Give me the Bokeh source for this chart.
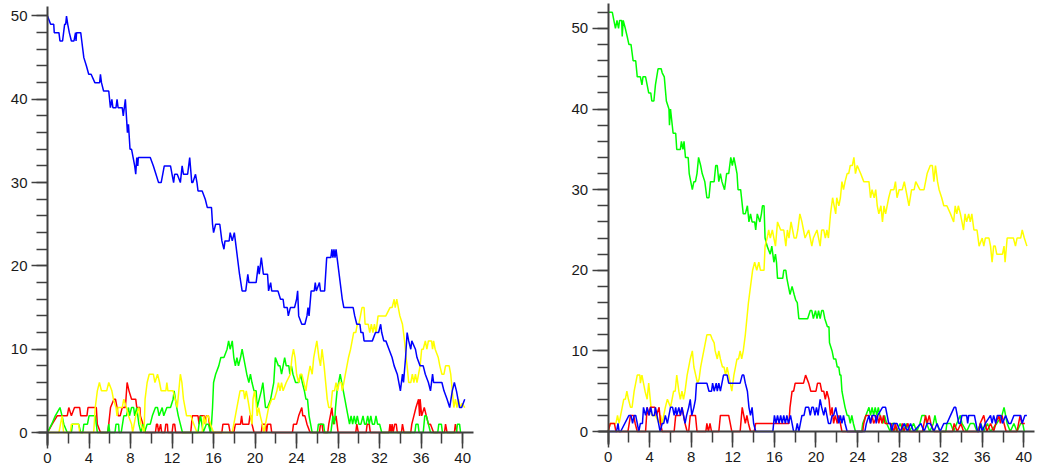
from bokeh.plotting import figure
from bokeh.models import LinearAxis, SingleIntervalTicker, Range1d
from bokeh.layouts import row
from bokeh.embed import file_html
from bokeh.resources import INLINE

# ---------------- data: (time, count) ----------------
left_blue = [(0,50),(0.3,49),(0.6,49),(0.65,48),(1.1,48),(1.2,47),(1.45,47),(1.55,48),(1.65,49),(1.75,49),(1.83,50),(1.95,49),(2.1,48),(2.3,47),(2.55,47),(2.7,48),(2.75,47),(2.8,48),(3.2,48),(3.3,47),(3.4,46),(3.5,45),(3.75,44),(3.97,43),(4.2,43),(4.56,42),(5.02,42),(5.1,43),(5.2,42),(5.4,41),(5.9,41),(6.06,39),(6.2,40),(6.3,39),(6.6,39),(6.7,40),(6.8,39),(7.2,39),(7.3,38),(7.5,40),(7.7,36),(7.8,37),(7.95,34),(8.1,34),(8.25,33),(8.4,32),(8.5,31),(8.6,33),(8.7,32),(8.75,33),(9.9,33),(10.2,32),(10.45,31),(10.7,30),(10.95,30),(11.1,31),(11.25,32),(11.85,32),(12.0,31),(12.15,30),(12.25,31),(12.5,31),(12.8,30),(12.97,32),(13.1,31),(13.5,31),(13.7,33),(13.9,30),(14.0,30),(14.26,31),(14.4,30),(14.5,29),(14.9,29),(15.2,28),(15.4,27),(15.8,27),(15.9,25),(16.0,24),(16.2,25),(16.6,25),(16.8,23),(17.0,22),(17.1,23),(17.5,23),(17.6,24),(17.8,23),(18.0,24),(18.1,23),(18.3,21),(18.5,19),(18.75,17),(19.1,17),(19.3,19),(19.4,18),(20.1,18),(20.3,20),(20.4,19),(20.6,21),(20.8,19),(21.2,19),(21.3,17),(21.5,18),(21.6,17),(22.2,17),(22.45,16),(22.7,16),(22.8,15),(23.1,15),(23.2,14),(23.4,15),(23.8,15),(24.0,16),(24.1,17),(24.2,14),(24.5,13),(24.8,13),(25.0,14),(25.1,15),(25.2,14),(25.4,17),(25.7,17),(25.8,18),(25.9,17),(26.2,18),(26.3,17),(26.7,17),(26.9,21),(27.3,21),(27.4,22),(27.5,21),(27.6,22),(27.7,21),(27.8,22),(27.9,21),(28.4,16),(28.55,15),(29.45,15),(29.6,14),(29.8,13),(30.1,13),(30.2,12),(30.4,12),(30.5,11),(31.3,11),(31.6,12),(31.9,12),(32.1,13),(32.2,12),(32.4,11),(32.6,11),(32.9,10),(33.2,9),(33.4,8),(33.7,7),(34.0,5),(34.2,7),(34.3,6),(34.5,9),(34.65,12),(34.8,11),(35.0,10),(35.1,11),(35.45,10),(35.6,9),(35.9,8),(36.2,8),(36.4,7),(36.7,6),(36.9,5),(37.1,7),(37.2,6),(37.5,6),(38.0,6),(38.2,5),(38.5,4),(38.75,3),(39.0,5),(39.2,6),(39.4,5),(39.7,3),(39.9,3),(40.2,4)]

left_red = [(0,0),(0.45,1),(0.93,2),(1.9,2),(2.05,3),(2.3,2),(2.6,3),(3.1,3),(3.2,2),(3.8,2),(3.9,3),(4.7,3),(4.8,1),(5.1,0),(5.8,0),(5.9,1),(6.07,3),(6.4,4),(6.55,4),(6.7,3),(6.8,2),(7.0,2),(7.2,3),(7.5,3),(7.67,6),(7.85,5),(8.1,4),(8.5,4),(8.6,3),(8.9,3),(8.95,2),(9.2,1),(9.4,0),(10.4,0),(10.5,1),(10.6,1),(10.7,0),(10.9,1),(11.0,0),(11.3,0),(11.4,1),(11.55,1),(11.6,0),(12.0,0),(12.1,1),(12.25,1),(12.35,0),(13.8,0),(13.95,2),(14.5,2),(14.6,1),(14.7,2),(15.1,2),(15.2,1),(15.3,2),(15.5,2),(15.7,0),(16.8,0),(16.9,1),(17.45,1),(17.6,0),(17.95,0),(18.1,1),(18.6,1),(18.7,2),(18.8,1),(19.4,1),(19.5,2),(19.6,2),(19.7,1),(19.9,0),(20.6,0),(20.7,1),(21.0,1),(21.1,0),(21.2,1),(21.5,1),(21.6,0),(23.6,0),(23.7,1),(24.0,1),(24.2,2),(24.5,3),(24.6,2),(24.8,2),(25.0,1),(25.3,0),(26.2,0),(26.3,1),(26.45,1),(26.55,0),(27.0,0),(27.1,1),(27.4,3),(27.55,1),(27.8,2),(28.0,0),(29.7,0),(29.8,1),(29.95,0),(30.7,0),(30.8,1),(31.0,1),(31.1,0),(32.9,0),(33.0,1),(33.1,0),(33.2,1),(33.3,0),(33.45,1),(33.6,1),(33.7,0),(34.1,0),(34.2,1),(34.35,0),(35.0,0),(35.1,1),(35.3,2),(35.5,3),(35.75,4),(35.85,2),(35.9,4),(36.05,2),(36.3,3),(36.5,2),(36.7,1),(36.9,1),(37.2,0),(38.25,0),(38.35,1),(38.5,0),(39.2,0),(39.3,1),(39.45,0),(39.8,0)]

left_green = [(0,0),(0.4,1),(0.75,2),(1.2,3),(1.4,2),(1.57,1),(1.9,0),(2.3,0),(2.4,1),(3.0,1),(3.2,0),(3.4,0),(3.5,1),(3.85,1),(4.0,2),(4.6,2),(4.8,0),(5.8,0),(5.9,1),(6.0,0),(6.5,0),(6.6,1),(6.85,1),(6.9,0),(7.1,0),(7.35,2),(7.6,2),(7.8,3),(7.9,2),(8.1,3),(8.3,3),(8.4,2),(8.6,3),(8.8,1),(9.0,0),(9.2,1),(9.35,0),(9.6,1),(9.9,1),(10.1,2),(10.4,3),(10.6,3),(10.75,2),(11.05,3),(11.2,2),(11.5,3),(11.85,3),(12.1,4),(12.2,5),(12.45,3),(12.6,2),(12.8,1),(13.0,0),(14.5,0),(14.6,1),(14.75,2),(15.0,0),(15.3,1),(15.5,1),(15.7,0),(15.8,1),(15.9,3),(16.0,6),(16.2,7),(16.5,8),(16.7,9),(17.0,9),(17.3,10),(17.45,11),(17.6,10),(17.8,11),(17.95,9),(18.1,8),(18.25,9),(18.4,8),(18.6,9),(18.75,10),(18.9,9),(19.05,8),(19.2,7),(19.4,6),(19.55,7),(19.7,6),(19.9,5),(20.1,5),(20.2,3),(20.4,4),(20.6,5),(20.75,6),(21.0,3),(21.2,3),(21.5,4),(21.65,5),(21.8,6),(21.95,9),(22.25,8),(22.4,8),(22.55,7),(22.7,8),(22.85,9),(23.0,8),(23.25,8),(23.35,7),(23.5,8),(23.65,7),(23.9,6),(24.2,6),(24.4,7),(24.55,6),(24.75,5),(24.9,4),(25.05,4),(25.2,2),(25.35,1),(25.5,0),(26.0,0),(26.1,1),(26.6,1),(26.7,0),(27.3,0),(27.5,2),(27.65,1),(27.75,3),(27.9,5),(28.05,6),(28.2,7),(28.35,6),(28.5,5),(28.65,4),(28.8,3),(28.95,2),(29.1,1),(29.25,2),(29.4,1),(29.55,2),(29.7,1),(29.85,2),(30.0,1),(30.2,1),(30.4,2),(30.55,1),(30.7,1),(30.85,2),(31.0,1),(31.15,2),(31.3,1),(31.5,1),(31.65,2),(31.8,1),(32.0,1),(32.2,0),(35.4,0),(35.5,1),(35.7,1),(35.8,0),(36.2,0),(36.35,2),(36.5,2),(36.7,1),(36.9,0),(37.6,0),(37.7,1),(37.95,1),(38.05,0),(39.4,0),(39.5,1),(39.7,1),(39.8,0)]

left_yellow = [(0,0),(1.1,0),(1.25,1),(1.4,2),(1.55,0),(2.2,0),(2.3,1),(3.0,1),(3.1,0),(4.45,0),(4.6,3),(4.8,5),(5.0,6),(5.2,5),(5.7,5),(5.9,6),(6.2,5),(6.35,4),(6.6,3),(6.7,2),(6.8,3),(7.2,3),(7.35,4),(7.6,3),(7.8,2),(8.1,1),(8.2,0),(8.35,1),(8.5,2),(8.8,3),(9.0,1),(9.3,0),(9.4,4),(9.6,6),(9.8,7),(10.2,7),(10.35,6),(10.6,7),(10.8,6),(10.95,5),(11.4,5),(11.5,6),(11.6,5),(12.1,5),(12.3,4),(12.5,3),(12.65,5),(12.8,7),(12.95,6),(13.1,4),(13.25,3),(13.4,2),(13.8,2),(14.1,1),(14.4,0),(14.9,0),(15.05,2),(15.2,1),(15.35,2),(15.5,2),(15.7,1),(16.0,0),(17.8,0),(17.95,1),(18.1,2),(18.4,4),(18.55,5),(18.9,5),(19.0,4),(19.15,5),(19.3,4),(19.7,1),(19.8,4),(19.95,5),(20.1,3.5),(20.2,2),(20.35,3),(20.5,2),(20.7,1),(20.85,0),(21.0,1),(21.3,3),(21.6,4),(21.85,4),(22.1,5),(22.25,6),(22.4,5),(22.55,6),(22.7,5),(23.0,6),(23.4,7),(23.55,9),(23.7,10),(23.85,9),(24.0,7),(24.2,6),(24.35,7),(24.5,7),(24.7,6),(24.9,5),(25.0,6),(25.15,7),(25.3,8),(25.5,7),(25.65,9),(25.8,10),(25.95,11),(26.15,9),(26.3,8),(26.45,10),(26.55,9),(26.65,8),(26.8,6),(26.95,4),(27.1,3),(27.3,3),(27.45,5),(27.65,5),(27.8,6),(27.95,5),(28.1,6),(28.3,6),(28.4,5),(28.55,6),(28.7,7),(28.85,8),(29.0,9),(29.2,10),(29.35,11),(29.5,12),(29.7,12),(29.85,13),(30.0,13),(30.15,14),(30.3,15),(30.5,15),(30.6,13),(30.9,13),(31.05,12),(31.2,13),(31.35,12),(31.5,13),(31.65,12),(31.85,14),(32.6,14),(33.0,15),(33.2,15),(33.4,16),(33.5,15),(33.65,16),(33.8,15),(33.95,14),(34.2,13),(34.4,11),(34.55,9),(34.65,8),(34.8,6),(35.0,6),(35.15,7),(35.3,6),(35.45,7),(35.6,6),(35.75,7),(35.9,8),(36.05,10),(36.2,10),(36.4,11),(36.55,10),(36.7,11),(37.0,11),(37.1,10),(37.2,11),(37.35,10),(37.65,9),(37.8,8),(38.0,7),(38.2,7),(38.35,8),(38.7,8),(38.85,7),(39.0,5),(39.15,3),(39.3,4),(39.45,3),(39.6,4),(39.75,3),(39.95,3.5),(40.2,3)]

right_green = [(0,52),(0.4,52),(0.7,50),(0.85,51),(1.0,50),(1.1,51),(1.3,51),(1.35,49),(1.45,51),(1.65,50),(1.83,49),(2.0,48),(2.2,48),(2.3,47),(2.4,46),(2.65,46),(2.8,44),(3.1,44),(3.25,43),(3.35,44),(3.6,44),(3.75,43),(3.9,42),(4.1,42),(4.2,41),(4.4,41),(4.55,43),(4.8,45),(5.1,45),(5.2,44.5),(5.4,44),(5.6,41),(5.85,40),(5.9,38),(6.0,40),(6.25,37),(6.5,37),(6.6,35),(6.95,35),(7.05,36),(7.2,35),(7.3,36),(7.44,34),(7.7,34),(7.8,32),(7.95,31),(8.1,30),(8.25,31),(8.4,31),(8.55,32),(8.7,34),(8.9,33),(9.05,32),(9.3,31),(9.5,29),(9.7,29),(9.85,31),(10.2,31),(10.35,33),(10.5,33),(10.65,31),(10.8,32),(10.95,31),(11.2,30),(11.4,32),(11.6,32),(11.8,34),(11.95,33),(12.1,34),(12.25,33),(12.4,32),(12.5,30),(12.75,30),(13.0,27),(13.2,27),(13.4,28),(13.55,26),(13.7,27),(13.85,26),(14.1,26),(14.2,25),(14.35,27),(14.6,26),(14.75,27),(14.85,28),(15.0,28),(15.1,24),(15.3,23),(15.6,22),(15.75,23),(15.95,21),(16.1,22),(16.2,21),(16.3,19),(16.8,19),(16.9,20),(17.1,20),(17.2,19),(17.35,18),(17.5,17),(17.7,18),(17.9,17),(18.05,16.3),(18.2,16),(18.35,14),(19.2,14),(19.45,15),(19.6,15),(19.75,14),(19.95,15),(20.1,14),(20.25,15),(20.4,14),(20.55,15),(20.7,15),(20.85,14),(21.1,13),(21.25,13),(21.3,11),(21.55,10),(21.7,9),(21.9,9),(22.05,8),(22.2,8),(22.3,7),(22.4,7),(22.5,5),(22.65,4),(22.8,3),(23.0,2),(23.15,2),(23.3,1),(23.45,2),(23.6,1),(23.8,0),(24.4,0),(24.5,1),(24.8,2),(25.1,3),(25.25,2),(25.4,3),(25.55,2),(25.7,3),(25.85,2),(26.0,3),(26.15,2),(26.45,1),(26.6,2),(26.8,1),(27.15,0),(27.3,1),(27.6,1),(27.75,0),(28.1,1),(28.4,0),(28.7,1),(29.0,0),(29.4,1),(29.7,0),(30.0,1),(30.2,2),(30.5,2),(30.65,1),(30.95,0),(31.3,1),(31.45,2),(31.6,1),(31.95,0),(32.5,0),(32.6,1),(32.95,1),(33.25,0),(33.55,1),(33.9,2),(34.05,1),(34.5,0),(34.85,1),(35.2,1),(35.5,0),(35.85,1),(36.15,0),(36.5,1),(36.8,0),(37.4,1),(37.9,2),(38.1,3),(38.25,2),(38.4,1),(38.7,0),(39.05,1),(39.35,0),(39.7,1),(39.9,1),(40.05,0)]

right_yellow = [(0,0),(0.2,1),(0.75,1),(0.9,2),(1.05,1),(1.2,2),(1.35,3),(1.5,4),(1.65,4),(1.8,5),(1.95,4),(2.15,3),(2.3,3),(2.5,5),(2.65,6),(2.8,7),(3.05,7),(3.1,6),(3.25,7),(3.4,6),(3.55,5),(3.75,4),(3.9,6),(4.05,4),(4.2,2),(4.55,2),(4.9,1),(5.05,2),(5.2,1),(5.35,2),(5.5,3),(5.7,4),(6.0,3),(6.15,4),(6.3,5),(6.45,5),(6.6,7),(6.8,5),(6.95,4),(7.1,5),(7.25,4),(7.4,5),(7.6,7),(7.75,8),(7.9,9),(8.1,10),(8.25,8),(8.6,6),(8.75,6.5),(8.9,8),(9.05,9),(9.2,10),(9.35,11),(9.5,12),(9.85,12),(10.0,11.5),(10.2,11),(10.3,10),(10.5,9),(10.65,10),(10.8,9),(11.0,8),(11.15,8),(11.3,7),(11.45,8),(11.6,7),(11.9,5),(12.1,7),(12.25,8),(12.4,9),(12.55,9),(12.7,10),(12.85,9),(13.0,10),(13.2,12),(13.35,14),(13.5,16),(13.7,18),(13.9,20),(14.1,21),(14.3,20),(14.5,21),(14.66,20),(15.0,20),(15.1,23),(15.3,24),(15.45,25),(15.6,24),(15.8,25),(15.95,24),(16.1,23),(16.3,26),(16.6,25),(16.9,25),(17.1,23),(17.25,25),(17.4,24),(17.6,26),(17.75,25),(17.9,24),(18.1,24),(18.25,25),(18.45,27),(18.65,26),(18.8,25),(18.95,24),(19.3,25),(19.45,24),(19.6,23),(19.75,24),(20.1,25),(20.25,24),(20.4,23),(20.55,25),(20.75,25),(20.9,24),(21.05,25),(21.2,24),(21.4,27),(21.6,29),(21.75,28),(21.9,27),(22.0,29),(22.2,28),(22.35,29),(22.5,31),(22.65,30),(22.8,31),(23.0,32),(23.15,32),(23.3,33),(23.5,33),(23.65,34),(23.8,32),(23.97,33),(24.3,32),(24.6,31),(25.1,31),(25.25,29),(25.4,30),(25.6,29),(25.75,30),(25.9,28),(26.05,27),(26.25,28),(26.4,26),(26.55,28),(26.7,27),(26.85,28),(27.0,29),(27.2,30),(27.5,30),(27.65,31),(27.8,29),(28.0,30),(28.3,30),(28.5,31),(28.8,29),(28.95,28),(29.2,30),(29.45,30),(29.6,31),(30.0,30),(30.4,30),(30.55,31),(30.7,32),(31.0,33),(31.2,33),(31.35,31),(31.5,33),(31.7,31),(31.85,30),(32.1,29),(32.3,28),(32.6,28),(32.95,27),(33.25,26),(33.4,28),(33.55,27),(33.7,28),(33.9,27),(34.05,26),(34.2,25),(34.35,27),(34.5,26),(34.7,27),(34.85,26),(35.0,27),(35.2,25),(35.5,25),(35.7,23),(36.0,24),(36.15,23),(36.3,24),(36.65,24),(36.8,23),(36.95,21),(37.1,23),(37.25,23),(37.4,22),(37.95,22),(38.1,23),(38.2,21),(38.4,24),(39.0,24),(39.2,23),(39.35,24),(39.7,24),(39.85,25),(40.05,24),(40.3,23)]

right_red = [(0,0),(0.2,1),(0.6,1),(0.75,0),(1.9,0),(2.15,2),(2.45,2),(2.6,1),(2.8,0),(3.6,0),(3.75,3),(3.9,2),(4.05,3),(4.5,3),(4.65,2),(4.9,3),(5.05,1),(5.2,0),(6.35,0),(6.5,2),(6.95,2),(7.1,3),(7.25,2),(7.4,1),(7.6,0),(7.75,0),(7.9,2),(8.4,2),(8.55,0),(9.4,0),(9.5,1),(9.65,0),(9.8,1),(9.95,0),(10.65,0),(10.8,2),(11.6,2),(11.75,1),(11.9,0),(12.7,0),(12.9,3),(13.05,2),(13.2,1),(13.35,2),(13.5,1),(13.7,0),(14.05,0),(14.2,1),(17.4,1),(17.5,3),(17.7,5),(17.85,5),(18.0,6),(18.8,6),(19.0,7),(19.15,6.5),(19.3,6),(19.5,5),(20.0,5),(20.15,6),(20.4,6),(20.55,5),(20.75,5),(20.9,4),(21.05,5),(21.25,4),(21.4,2),(21.55,3),(21.7,1),(21.85,2),(22.05,1),(22.2,2),(22.35,1),(22.5,0),(24.5,0),(24.6,1),(24.8,2),(25.1,2),(25.25,1),(25.4,2),(25.55,1),(25.9,2),(26.05,1),(26.2,2),(26.35,1),(26.5,2),(26.65,1),(27.2,1),(27.5,0),(27.65,1),(27.8,0),(28.2,0),(28.3,1),(28.45,0),(28.85,1),(29.0,0),(30.25,0),(30.4,1),(30.55,2),(30.7,1),(30.9,2),(31.05,1),(31.35,0),(33.15,0),(33.3,1),(33.6,0),(33.95,1),(34.2,0),(35.65,0),(35.8,1),(36.15,2),(36.3,1),(36.45,0),(36.8,1),(37.1,0),(37.3,1),(37.6,2),(37.75,1),(37.9,2),(38.1,1),(38.3,0),(39.35,0),(39.5,1),(39.65,2),(39.8,1),(40.1,1)]

right_blue = [(0,0),(0.8,0),(0.95,1),(1.05,0),(1.2,0),(2.0,2),(2.2,2),(2.35,1),(2.5,2),(2.65,2),(2.8,1),(2.95,0),(3.1,1),(3.3,1),(3.4,3),(3.6,2),(3.75,3),(3.95,2),(4.1,3),(4.25,2),(4.45,2),(4.55,3),(4.7,2),(4.85,1),(5.0,0),(5.2,1),(5.35,1),(5.5,2),(5.7,1),(6.0,3),(6.2,3),(6.35,2),(6.5,3),(6.6,2),(6.8,3),(6.95,2),(7.1,3),(7.25,2),(7.4,1),(7.55,2),(7.75,3),(7.9,4),(8.05,2),(8.25,3),(8.4,4),(8.5,6),(9.5,6),(9.7,5),(9.95,5),(10.05,6),(10.2,5),(10.4,6),(10.5,5),(10.65,6),(10.8,5),(10.95,6),(11.1,7),(11.45,7),(11.6,6),(12.7,6),(12.9,7),(13.05,7),(13.2,6),(13.4,5),(13.55,3),(13.7,2),(13.85,3),(14.0,1),(14.2,0),(15.85,0),(16.0,2),(16.15,1),(16.3,2),(16.45,1),(16.6,2),(16.75,1),(16.9,2),(17.05,1),(17.2,2),(17.35,1),(17.55,2),(17.7,1),(17.85,0),(18.05,0),(18.2,1),(18.35,0),(18.5,1),(18.65,2),(18.85,2),(19.0,3),(19.3,3),(19.45,2),(19.6,3),(19.75,3),(19.9,2),(20.05,3),(20.2,2),(20.4,4),(20.55,3),(20.75,2),(20.9,3),(21.05,2),(21.2,1),(21.4,1),(21.55,2),(21.7,2),(21.9,3),(22.05,2),(22.2,1),(22.35,2),(22.5,1),(22.65,2),(22.8,1),(23.0,0),(24.7,0),(24.85,1),(25.1,2),(25.25,1),(25.4,2),(25.7,2),(25.8,1),(25.95,2),(26.4,3),(26.7,3),(26.85,2),(27.0,1),(27.15,1),(27.3,0),(27.45,1),(27.8,1),(28.1,0),(28.5,1),(28.8,0),(29.1,1),(29.4,0),(30.1,1),(30.4,0),(30.7,1),(31.0,1),(31.35,0),(31.65,1),(31.95,0),(32.3,1),(32.6,1),(32.95,2),(33.3,3),(33.45,3),(33.6,2),(33.75,1),(33.9,1),(34.05,2),(34.5,2),(34.6,1),(34.7,2),(35.25,2),(35.4,1),(35.55,0),(35.7,0),(35.85,1),(36.0,0),(36.3,1),(36.8,2),(36.95,1),(37.1,2),(37.3,1),(37.45,2),(37.8,2),(37.95,1),(38.25,2),(38.55,1),(38.75,1),(39.05,2),(39.7,2),(39.85,1),(40.1,2),(40.3,2)]

x_tick_step = 4
y_tick_step = 10

left_series = [(left_red, "#ff0000"), (left_green, "#00ff00"), (left_yellow, "#ffff00"), (left_blue, "#0000ff")]
right_series = [(right_green, "#00ff00"), (right_yellow, "#ffff00"), (right_red, "#ff0000"), (right_blue, "#0000ff")]

AXIS_COLOR = "#404040"
TEXT_COLOR = "#1a1a1a"


def make_panel(width, xr, yr, xbounds, ybounds, series):
    p = figure(width=width, height=471, x_range=Range1d(*xr), y_range=Range1d(*yr),
               output_backend="svg", toolbar_location=None,
               x_axis_type=None, y_axis_type=None,
               min_border_left=0, min_border_right=0,
               min_border_top=0, min_border_bottom=0)
    p.outline_line_color = None
    p.background_fill_color = "white"
    p.border_fill_color = "white"
    for data, color in series:
        ts = [d[0] for d in data]
        vs = [d[1] for d in data]
        p.line(ts, vs, line_color=color, line_width=1.5)
    xaxis = LinearAxis(ticker=SingleIntervalTicker(interval=x_tick_step, num_minor_ticks=2))
    xaxis.bounds = xbounds
    yaxis = LinearAxis(ticker=SingleIntervalTicker(interval=y_tick_step, num_minor_ticks=5))
    yaxis.bounds = ybounds
    for ax, side in ((xaxis, "below"), (yaxis, "left")):
        ax.fixed_location = 0
        ax.axis_line_color = AXIS_COLOR
        ax.axis_line_width = 2
        ax.major_tick_line_color = AXIS_COLOR
        ax.minor_tick_line_color = AXIS_COLOR
        ax.major_tick_line_width = 1.5
        ax.minor_tick_line_width = 1.5
        ax.major_tick_in = 0
        ax.minor_tick_in = 0
        ax.major_tick_out = 16
        ax.minor_tick_out = 11
        ax.major_label_text_font = "Liberation Sans"
        ax.major_label_text_font_size = "15px"
        ax.major_label_text_color = TEXT_COLOR
        ax.major_label_standoff = 4
        p.add_layout(ax, side)
    return p


p1 = make_panel(518, (-4.53, 45.38), (-4.68, 51.86), (-0.9, 41.0), (-1.56, 51.1), left_series)
p2 = make_panel(519, (-8.63, 41.32), (-4.96, 53.47), (-0.9, 41.0), (-1.6, 53.1), right_series)

layout = row(p1, p2, spacing=0)
open("out.html", "w").write(file_html(layout, INLINE))
